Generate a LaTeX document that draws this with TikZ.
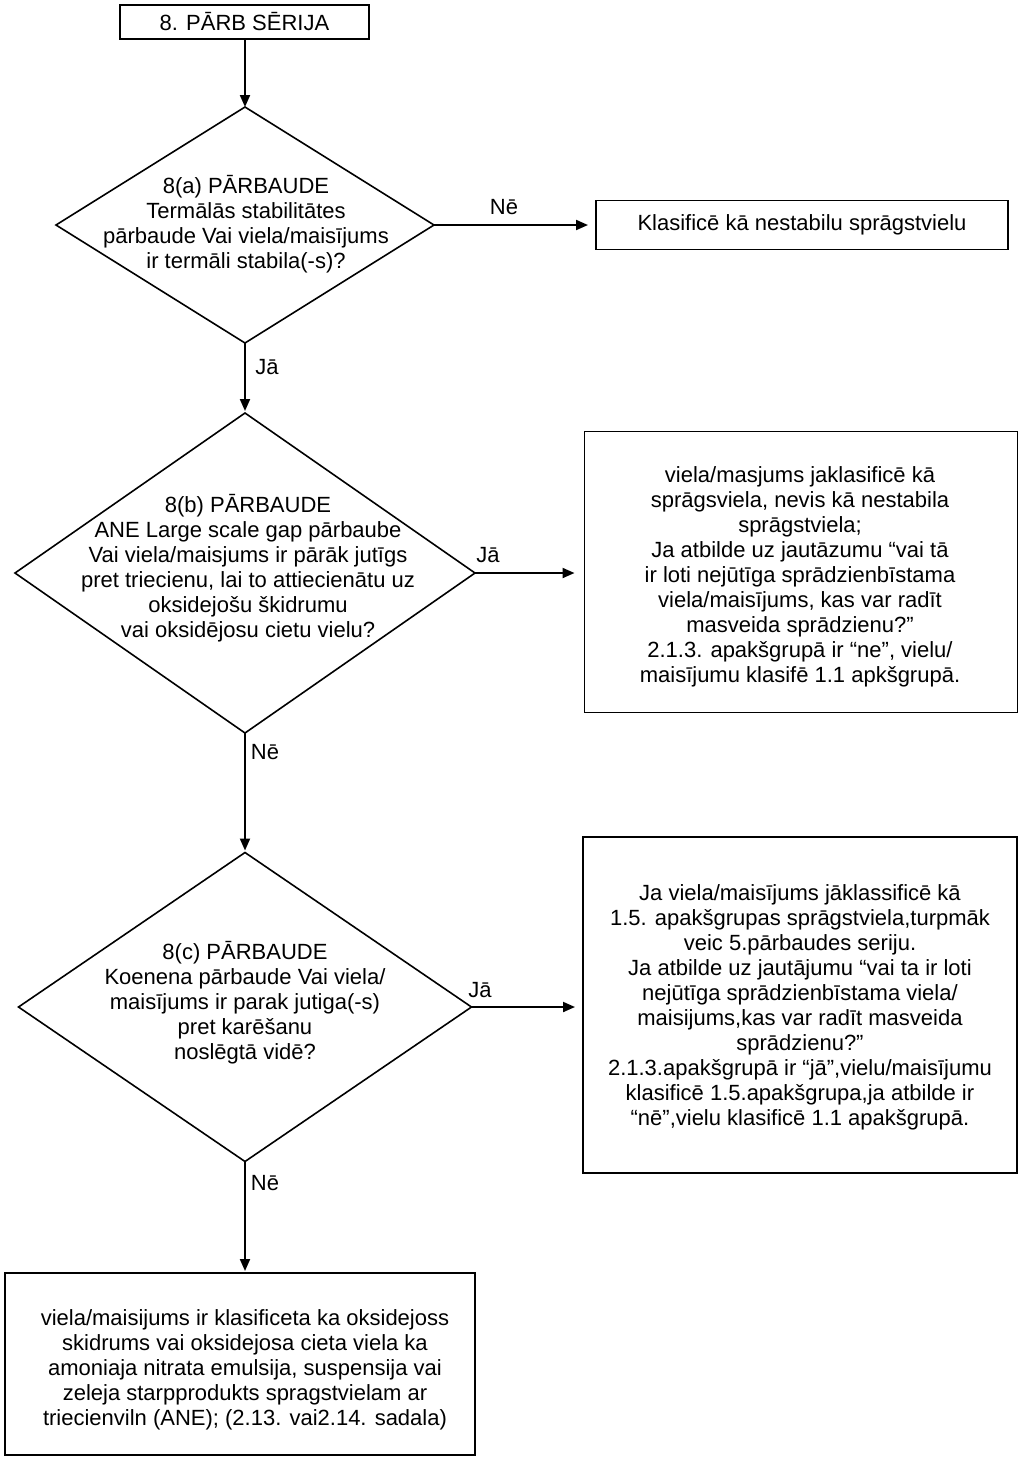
\documentclass[tikz,border=0pt]{standalone}
\usepackage{fontspec}
\setmainfont{Liberation Sans}
\usetikzlibrary{shapes.geometric,arrows.meta}
\begin{document}
\begin{tikzpicture}[x=0.5pt,y=-0.5pt,
  txt/.style={font=\fontsize{11}{12.5}\selectfont, align=center, inner sep=0pt},
  boxnode/.style={draw, line width=0.9pt, rectangle, inner sep=0pt, outer sep=0pt, font=\fontsize{11}{12.5}\selectfont, align=center},
  dia/.style={draw, line width=0.8pt, diamond, inner sep=0pt, outer sep=0pt, aspect=1},
  arr/.style={line width=1pt, -{Triangle[length=6pt,width=5pt]}},
  lbl/.style={font=\fontsize{11}{12.5}\selectfont, inner sep=0pt}
]
\useasboundingbox (0,0) rectangle (1023,1464);
\fill[white] (0,0) rectangle (1023,1464);

\node[boxnode, minimum width=124.5pt, minimum height=17pt] (b1) at (244.5,22) {8. PĀRB SĒRIJA};

\node[dia, minimum width=189pt, minimum height=118pt] (d1) at (245,225) {};
\node[txt] (t1) at (246,224) {8(a) PĀRBAUDE\\Termālās stabilitātes\\pārbaude Vai viela/maisījums\\ir termāli stabila(-s)?};

\node[boxnode, minimum width=206pt, minimum height=24.5pt] (b2) at (802,225) {Klasificē kā nestabilu sprāgstvielu};

\node[dia, minimum width=230pt, minimum height=160pt] (d2) at (245,573) {};
\node[txt] (t2) at (248,568) {8(b) PĀRBAUDE\\ANE Large scale gap pārbaube\\Vai viela/maisjums ir pārāk jutīgs\\pret triecienu, lai to attiecienātu uz\\oksidejošu škidrumu\\vai oksidējosu cietu vielu?};

\node[boxnode, minimum width=216.5pt, minimum height=140.5pt] (b3) at (801,572) {};
\node[txt] (t3) at (800,577) {viela/masjums jaklasificē kā\\sprāgsviela, nevis kā nestabila\\sprāgstviela;\\Ja atbilde uz jautāzumu “vai tā\\ir loti nejūtīga sprādzienbīstama\\viela/maisījums, kas var radīt\\masveida sprādzienu?”\\2.1.3. apakšgrupā ir “ne”, vielu/\\maisījumu klasifē 1.1 apkšgrupā.};

\node[dia, minimum width=226.5pt, minimum height=154.5pt] (d3) at (245,1007) {};
\node[txt] (t3c) at (245,1003) {8(c) PĀRBAUDE\\Koenena pārbaude Vai viela/\\maisījums ir parak jutiga(-s)\\pret karēšanu\\noslēgtā vidē?};

\node[boxnode, minimum width=217pt, minimum height=168pt] (b4) at (800,1005) {};
\node[txt] (t4) at (800,1007) {Ja viela/maisījums jāklassificē kā\\1.5. apakšgrupas sprāgstviela,turpmāk\\veic 5.pārbaudes seriju.\\Ja atbilde uz jautājumu “vai ta ir loti\\nejūtīga sprādzienbīstama viela/\\maisijums,kas var radīt masveida\\sprādzienu?”\\2.1.3.apakšgrupā ir “jā”,vielu/maisījumu\\klasificē 1.5.apakšgrupa,ja atbilde ir\\“nē”,vielu klasificē 1.1 apakšgrupā.};

\node[boxnode, minimum width=235pt, minimum height=91pt] (b5) at (240,1364) {};
\node[txt] (t5) at (245,1370) {viela/maisijums ir klasificeta ka oksidejoss\\skidrums vai oksidejosa cieta viela ka\\amoniaja nitrata emulsija, suspensija vai\\zeleja starpprodukts spragstvielam ar\\triecienviln (ANE); (2.13. vai2.14. sadala)};

\draw[arr] (b1.south -| d1.north) -- (d1.north);
\draw[arr, shorten >=4pt] (d1.east) -- (b2.west);
\draw[arr, shorten >=1pt] (d1.south) -- (d2.north);
\draw[arr, shorten >=5pt] (d2.east) -- (d2.east -| b3.west);
\draw[arr, shorten >=1pt] (d2.south) -- (d3.north);
\draw[arr, shorten >=4pt] (d3.east) -- (d3.east -| b4.west);
\draw[arr, shorten >=1pt] (d3.south) -- (d3.south |- b5.north);

\node[lbl] (l1) at (504,207) {Nē};
\node[lbl] (l2) at (267,367) {Jā};
\node[lbl] (l3) at (488,555) {Jā};
\node[lbl] (l4) at (265,752) {Nē};
\node[lbl] (l5) at (480,990) {Jā};
\node[lbl] (l6) at (265,1183) {Nē};
\end{tikzpicture}
\end{document}
